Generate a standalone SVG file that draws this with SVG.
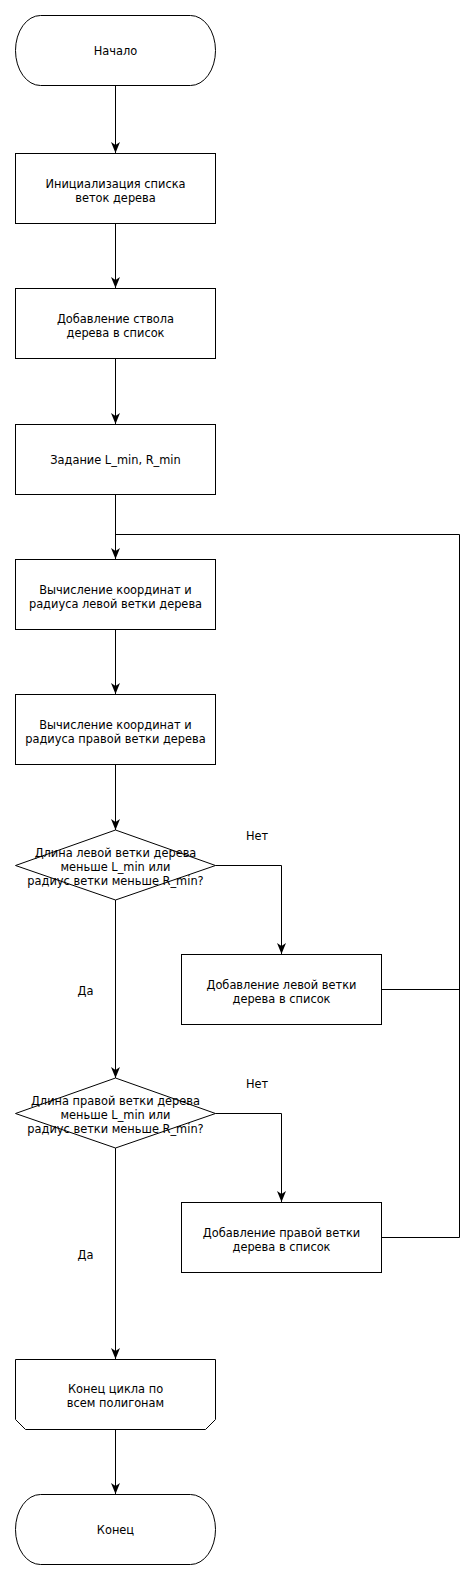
<svg xmlns="http://www.w3.org/2000/svg" width="475" height="1580" viewBox="0 0 475 1580">
<style>
.s{fill:#fff;stroke:#000;stroke-width:1}
.c{fill:none;stroke:#000;stroke-width:1}
text{font-family:"DejaVu Sans",sans-serif;font-size:11.4px;fill:#000;text-anchor:middle}
</style>
<defs>
<marker id="a" markerUnits="userSpaceOnUse" markerWidth="14" markerHeight="12" viewBox="-12 -6 14 12" refX="0" refY="0" orient="auto" overflow="visible">
<path d="M0,0 L-11,-4.5 L-8,0 L-11,4.5 Z" fill="#000"/>
</marker>
</defs>
<rect width="475" height="1580" fill="#fff"/>
<g id="connectors">
<path class="c" d="M115.5,85.5 V153" marker-end="url(#a)"/>
<path class="c" d="M115.5,223.5 V288" marker-end="url(#a)"/>
<path class="c" d="M115.5,358.5 V424" marker-end="url(#a)"/>
<path class="c" d="M115.5,494.5 V559" marker-end="url(#a)"/>
<path class="c" d="M115.5,629.5 V694" marker-end="url(#a)"/>
<path class="c" d="M115.5,764.5 V830" marker-end="url(#a)"/>
<path class="c" d="M215.5,865.5 H281.5 V954" marker-end="url(#a)"/>
<path class="c" d="M115.5,900 V1078" marker-end="url(#a)"/>
<path class="c" d="M215.5,1113.5 H281.5 V1202" marker-end="url(#a)"/>
<path class="c" d="M115.5,1148 V1359" marker-end="url(#a)"/>
<path class="c" d="M115.5,1429.5 V1494" marker-end="url(#a)"/>
<path class="c" d="M381.5,989.5 H459.5"/>
<path class="c" d="M381.5,1237.5 H459.5 V534.5 H115.5"/>
<text x="257" y="840">Нет</text>
<text x="85.5" y="995">Да</text>
<text x="257" y="1088">Нет</text>
<text x="85.5" y="1259">Да</text>
</g>
<g id="start">
<rect class="s" x="15.5" y="15.5" width="200" height="70" rx="25" ry="35"/>
<text x="115.5" y="54.5">Начало</text>
</g>
<g id="init">
<rect class="s" x="15.5" y="153.5" width="200" height="70"/>
<text x="115.5" y="187.5">Инициализация списка</text>
<text x="115.5" y="201.5">веток дерева</text>
</g>
<g id="trunk">
<rect class="s" x="15.5" y="288.5" width="200" height="70"/>
<text x="115.5" y="322.5">Добавление ствола</text>
<text x="115.5" y="336.5">дерева в список</text>
</g>
<g id="params">
<rect class="s" x="15.5" y="424.5" width="200" height="70"/>
<text x="115.5" y="463.5">Задание L_min, R_min</text>
</g>
<g id="calcLeft">
<rect class="s" x="15.5" y="559.5" width="200" height="70"/>
<text x="115.5" y="593.5">Вычисление координат и</text>
<text x="115.5" y="607.5">радиуса левой ветки дерева</text>
</g>
<g id="calcRight">
<rect class="s" x="15.5" y="694.5" width="200" height="70"/>
<text x="115.5" y="728.5">Вычисление координат и</text>
<text x="115.5" y="742.5">радиуса правой ветки дерева</text>
</g>
<g id="condLeft">
<path class="s" d="M115.5,830 L215.5,865.5 L115.5,900 L15.5,865.5 Z"/>
<text x="115.5" y="857">Длина левой ветки дерева</text>
<text x="115.5" y="871">меньше L_min или</text>
<text x="115.5" y="885">радиус ветки меньше R_min?</text>
</g>
<g id="addLeft">
<rect class="s" x="181.5" y="954.5" width="200" height="70"/>
<text x="281.5" y="988.5">Добавление левой ветки</text>
<text x="281.5" y="1002.5">дерева в список</text>
</g>
<g id="condRight">
<path class="s" d="M115.5,1078 L215.5,1113.5 L115.5,1148 L15.5,1113.5 Z"/>
<text x="115.5" y="1105">Длина правой ветки дерева</text>
<text x="115.5" y="1119">меньше L_min или</text>
<text x="115.5" y="1133">радиус ветки меньше R_min?</text>
</g>
<g id="addRight">
<rect class="s" x="181.5" y="1202.5" width="200" height="70"/>
<text x="281.5" y="1236.5">Добавление правой ветки</text>
<text x="281.5" y="1250.5">дерева в список</text>
</g>
<g id="loopEnd">
<path class="s" d="M15.5,1359.5 H215.5 V1419.5 L205.5,1429.5 H25.5 L15.5,1419.5 Z"/>
<text x="115.5" y="1392.5">Конец цикла по</text>
<text x="115.5" y="1406.5">всем полигонам</text>
</g>
<g id="end">
<rect class="s" x="15.5" y="1494.5" width="200" height="70" rx="25" ry="35"/>
<text x="115.5" y="1533.5">Конец</text>
</g>
</svg>
